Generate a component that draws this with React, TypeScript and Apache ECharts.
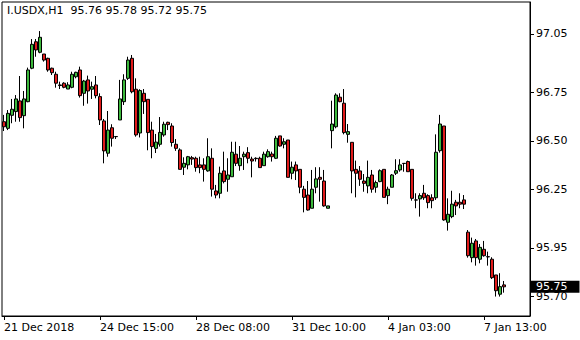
import React, { useEffect, useRef } from 'react';
import * as echarts from 'echarts';

const chartTitle = 'I.USDX,H1  95.76 95.78 95.72 95.75';

const opens = [
  96.599, 96.565, 96.632, 96.651, 96.706, 96.630, 96.702, 96.874, 97.010, 96.956,
  96.947, 96.925, 96.874, 96.843, 96.788, 96.797, 96.767, 96.776, 96.830, 96.865,
  96.745, 96.814, 96.766, 96.788, 96.728, 96.603, 96.437, 96.568, 96.522, 96.608,
  96.702, 96.822, 96.925, 96.766, 96.541, 96.745, 96.714, 96.556, 96.462, 96.483,
  96.531, 96.596, 96.577, 96.483, 96.454, 96.365, 96.377, 96.414, 96.411, 96.377,
  96.377, 96.346, 96.411, 96.243, 96.231, 96.346, 96.303, 96.316, 96.432, 96.373,
  96.419, 96.440, 96.407, 96.411, 96.411, 96.373, 96.419, 96.433, 96.411, 96.526,
  96.483, 96.505, 96.334, 96.377, 96.354, 96.252, 96.222, 96.154, 96.262, 96.313,
  96.294, 96.154, 96.553, 96.573, 96.725, 96.694, 96.534, 96.493, 96.354, 96.346,
  96.294, 96.269, 96.325, 96.262, 96.291, 96.354, 96.219, 96.262, 96.334, 96.351,
  96.385, 96.394, 96.354, 96.197, 96.202, 96.231, 96.219, 96.208, 96.208, 96.450,
  96.577, 96.082, 96.111, 96.185, 96.185, 96.197, 96.031, 95.900, 95.986, 95.892,
  95.943, 95.905, 95.892, 95.811, 95.712, 95.760,
];

const closes = [
  96.573, 96.642, 96.663, 96.716, 96.620, 96.716, 96.865, 96.997, 96.968, 97.033,
  96.916, 96.865, 96.851, 96.797, 96.785, 96.776, 96.788, 96.843, 96.853, 96.733,
  96.808, 96.757, 96.779, 96.733, 96.608, 96.449, 96.556, 96.514, 96.523, 96.716,
  96.814, 96.916, 96.753, 96.531, 96.759, 96.702, 96.543, 96.471, 96.494, 96.544,
  96.586, 96.584, 96.492, 96.462, 96.354, 96.385, 96.419, 96.407, 96.363, 96.363,
  96.354, 96.419, 96.252, 96.222, 96.334, 96.291, 96.325, 96.442, 96.385, 96.411,
  96.432, 96.411, 96.397, 96.409, 96.363, 96.432, 96.445, 96.419, 96.514, 96.474,
  96.496, 96.313, 96.365, 96.346, 96.262, 96.210, 96.145, 96.252, 96.305, 96.303,
  96.166, 96.166, 96.587, 96.736, 96.702, 96.543, 96.548, 96.346, 96.334, 96.303,
  96.282, 96.313, 96.252, 96.286, 96.347, 96.210, 96.252, 96.325, 96.347, 96.377,
  96.384, 96.342, 96.205, 96.196, 96.219, 96.208, 96.183, 96.193, 96.442, 96.587,
  96.094, 96.123, 96.175, 96.166, 96.175, 96.175, 95.910, 95.974, 95.900, 95.953,
  95.910, 95.904, 95.797, 95.730, 95.751, 95.750,
];

const highs = [
  96.634, 96.659, 96.716, 96.736, 96.834, 96.757, 96.877, 97.024, 97.024, 97.065,
  96.947, 96.928, 96.877, 96.856, 96.805, 96.802, 96.802, 96.856, 96.856, 96.882,
  96.814, 96.836, 96.805, 96.834, 96.745, 96.613, 96.654, 96.586, 96.525, 96.814,
  96.843, 96.933, 96.942, 96.822, 96.766, 96.767, 96.714, 96.599, 96.536, 96.623,
  96.599, 96.599, 96.591, 96.510, 96.462, 96.416, 96.423, 96.423, 96.419, 96.419,
  96.411, 96.514, 96.462, 96.274, 96.368, 96.445, 96.411, 96.496, 96.496, 96.474,
  96.445, 96.468, 96.419, 96.416, 96.419, 96.445, 96.457, 96.445, 96.526, 96.526,
  96.514, 96.505, 96.394, 96.394, 96.354, 96.269, 96.294, 96.351, 96.365, 96.365,
  96.351, 96.166, 96.707, 96.745, 96.745, 96.767, 96.587, 96.493, 96.399, 96.371,
  96.330, 96.399, 96.351, 96.296, 96.354, 96.354, 96.265, 96.330, 96.406, 96.406,
  96.385, 96.399, 96.354, 96.231, 96.231, 96.274, 96.226, 96.226, 96.534, 96.634,
  96.577, 96.205, 96.244, 96.197, 96.231, 96.222, 96.042, 96.003, 95.996, 95.970,
  95.986, 95.931, 95.902, 95.811, 95.820, 95.780,
];

const lows = [
  96.551, 96.556, 96.591, 96.599, 96.599, 96.565, 96.699, 96.869, 96.933, 96.951,
  96.908, 96.856, 96.839, 96.774, 96.767, 96.771, 96.767, 96.771, 96.822, 96.723,
  96.681, 96.692, 96.716, 96.719, 96.582, 96.385, 96.419, 96.471, 96.510, 96.608,
  96.685, 96.814, 96.745, 96.522, 96.518, 96.639, 96.452, 96.411, 96.438, 96.471,
  96.522, 96.556, 96.471, 96.449, 96.354, 96.325, 96.354, 96.377, 96.342, 96.334,
  96.291, 96.342, 96.214, 96.205, 96.205, 96.282, 96.239, 96.316, 96.371, 96.347,
  96.351, 96.385, 96.313, 96.394, 96.363, 96.373, 96.414, 96.394, 96.407, 96.471,
  96.462, 96.313, 96.303, 96.299, 96.231, 96.133, 96.142, 96.154, 96.231, 96.188,
  96.162, 96.154, 96.462, 96.565, 96.699, 96.534, 96.491, 96.231, 96.210, 96.269,
  96.239, 96.231, 96.234, 96.234, 96.288, 96.210, 96.175, 96.262, 96.325, 96.342,
  96.342, 96.342, 96.193, 96.154, 96.111, 96.197, 96.154, 96.154, 96.197, 96.440,
  96.090, 96.039, 96.103, 96.119, 96.154, 96.150, 95.900, 95.876, 95.859, 95.871,
  95.905, 95.859, 95.790, 95.700, 95.700, 95.720,
];

const xTickIndex = [0, 24, 48, 72, 96, 120];
const xTickLabels = ['21 Dec 2018', '24 Dec 15:00', '28 Dec 08:00', '31 Dec 10:00', '4 Jan 03:00', '7 Jan 13:00'];
const yTickValues = [97.05, 96.75, 96.5, 96.25, 95.95, 95.7];
const lastPrice = 95.75;
const totalSlots = 132;
const yMin = 95.6;
const yMax = 97.2145;

export default function App() {
  const ref = useRef<HTMLDivElement>(null);
  useEffect(() => {
    if (!ref.current) return;
    const chart = echarts.init(ref.current, null, { renderer: 'svg' });
    const categories = Array.from({ length: totalSlots }, (_, i) => String(i));
    const data = opens.map((o, i) => [o, closes[i], lows[i], highs[i]]);
    const font = 'DejaVu Sans';
    chart.setOption({
      animation: false,
      backgroundColor: '#ffffff',
      textStyle: { fontFamily: font },
      title: {
        text: chartTitle,
        left: 7,
        top: 5,
        padding: 0,
        textStyle: { fontSize: 11, fontWeight: 'normal', color: '#000', fontFamily: font },
      },
      grid: {
        left: 2,
        top: 2,
        width: 528,
        height: 314,
        show: true,
        borderColor: '#000',
        borderWidth: 1,
        backgroundColor: 'transparent',
      },
      xAxis: {
        type: 'category',
        data: categories,
        boundaryGap: true,
        axisLine: { show: true, lineStyle: { color: '#000', width: 1 } },
        axisTick: {
          show: true,
          alignWithLabel: true,
          length: 4,
          interval: (i: number) => xTickIndex.includes(i),
          lineStyle: { color: '#000' },
        },
        axisLabel: {
          interval: (i: number) => xTickIndex.includes(i),
          formatter: (_v: string, i: number) => {
            const k = xTickIndex.indexOf(i);
            return k >= 0 ? xTickLabels[k] : '';
          },
          align: 'left',
          margin: 6,
          color: '#000',
          fontSize: 11,
          fontFamily: font,
        },
        splitLine: { show: false },
      },
      yAxis: {
        type: 'value',
        position: 'right',
        min: yMin,
        max: yMax,
        axisLine: { show: true, lineStyle: { color: '#000', width: 1 } },
        axisTick: { show: true, customValues: yTickValues, length: 4, lineStyle: { color: '#000' } },
        axisLabel: {
          customValues: yTickValues,
          formatter: (v: number) => v.toFixed(2),
          margin: 6,
          color: '#000',
          fontSize: 11,
          fontFamily: font,
        },
        splitLine: { show: false },
      },
      series: [
        {
          type: 'candlestick',
          data,
          barWidth: 3,
          itemStyle: {
            color: '#3cb83c',
            color0: '#e01b1b',
            borderColor: '#000',
            borderColor0: '#000',
            borderColorDoji: '#000',
            borderWidth: 1,
          },
          markLine: {
            silent: true,
            symbol: ['none', 'none'],
            lineStyle: { color: 'rgba(0,0,0,0)', width: 0 },
            label: {
              show: true,
              position: 'end',
              formatter: lastPrice.toFixed(2),
              backgroundColor: '#000',
              color: '#fff',
              fontSize: 11,
              lineHeight: 12,
              fontFamily: font,
              padding: [0, 12, 0, 5],
              distance: 1,
            },
            data: [{ yAxis: lastPrice }],
          },
        },
      ],
    });
    return () => chart.dispose();
  }, []);
  return (
    <div
      ref={ref}
      style={{ position: 'fixed', left: 0, top: 0, width: 580, height: 340, background: '#fff' }}
    />
  );
}
